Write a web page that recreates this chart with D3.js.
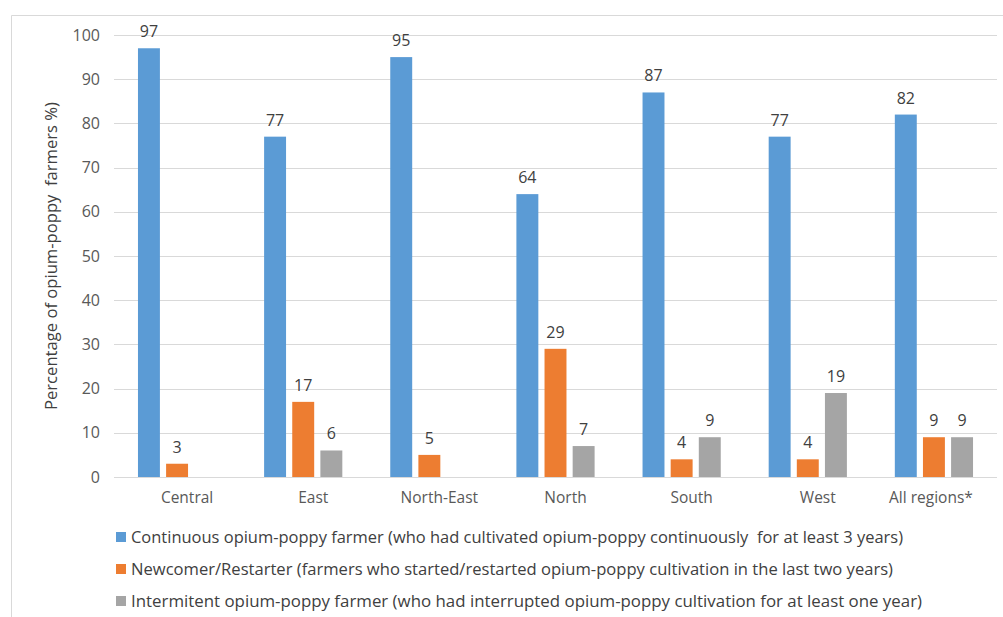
<!DOCTYPE html>
<html><head><meta charset="utf-8">
<script src="https://cdn.jsdelivr.net/npm/d3@7"></script>
<style>body{margin:0;background:#fff}svg{display:block}text{font-family:"Open Sans","Noto Sans",sans-serif}</style>
</head><body><svg id="c" width="1003" height="617"></svg>
<script>
const categories = ["Central","East","North-East","North","South","West","All regions*"];
const continuous = [97,77,95,64,87,77,82];
const newcomer = [3,17,5,29,4,4,9];
const intermittent = [null,6,null,7,9,19,9];
const seriesNames = [
  "Continuous opium-poppy farmer (who had cultivated opium-poppy continuously  for at least 3 years)",
  "Newcomer/Restarter (farmers who started/restarted opium-poppy cultivation in the last two years)",
  "Intermitent opium-poppy farmer (who had interrupted opium-poppy cultivation for at least one year)"
];
const colors = ["#5b9bd5","#ed7d31","#a5a5a5"];
const yTicks = [0,10,20,30,40,50,60,70,80,90,100];

const svg = d3.select("#c");
// chart border
svg.append("path").attr("d","M11.5,617 V15.5 H1003").attr("fill","none").attr("stroke","#d9d9d9");

const L=114, R=997, T=35, B=477;
const y = d3.scaleLinear().domain([0,100]).range([B,T]);
const x0 = d3.scaleBand().domain(categories).range([L,R]).paddingInner(0.38).paddingOuter(0.19);
const x1 = d3.scaleBand().domain([0,1,2]).range([0,x0.bandwidth()]).paddingInner(0.22);

// grid
svg.append("g").selectAll("line").data(yTicks).join("line")
  .attr("x1",L).attr("x2",R).attr("y1",d=>Math.round(y(d))+0.5).attr("y2",d=>Math.round(y(d))+0.5)
  .attr("stroke","#d9d9d9").attr("stroke-width",1);

// y axis labels
const yAxis = d3.axisLeft(y).tickValues(yTicks).tickSize(0).tickPadding(14);
const gy = svg.append("g").attr("transform",`translate(${L},0)`).call(yAxis);
gy.select(".domain").remove();
gy.selectAll("text").attr("fill","#595959").style("font-size","16px").style("font-family",'"Open Sans","Noto Sans",sans-serif');

// x axis labels
const xAxis = d3.axisBottom(x0).tickSize(0).tickPadding(15);
const gx = svg.append("g").attr("transform",`translate(0,${B})`).call(xAxis);
gx.select(".domain").remove();
gx.selectAll("text").attr("fill","#595959").style("font-size","15.5px").style("font-family",'"Open Sans","Noto Sans",sans-serif')
  .attr("dx",(d,i)=> i===categories.length-1 ? -3 : 10);

const series=[continuous,newcomer,intermittent];
const groups = svg.append("g").selectAll("g").data(categories).join("g")
  .attr("transform",d=>`translate(${x0(d)},0)`);
series.forEach((s,si)=>{
  groups.filter((d,i)=>s[i]!=null).append("rect")
    .attr("x",x1(si)).attr("width",x1.bandwidth())
    .attr("y",(d)=>y(s[categories.indexOf(d)]))
    .attr("height",d=>B-y(s[categories.indexOf(d)]))
    .attr("fill",colors[si]);
  groups.filter((d,i)=>s[i]!=null).append("text")
    .attr("x",x1(si)+x1.bandwidth()/2).attr("y",d=>y(s[categories.indexOf(d)])-11)
    .attr("text-anchor","middle").attr("fill","#404040").style("font-size","16px")
    .text(d=>s[categories.indexOf(d)]);
});

// y title
svg.append("text").attr("transform","translate(57,256) rotate(-90)").attr("text-anchor","middle")
  .attr("fill","#404040").style("font-size","15.5px").attr("xml:space","preserve")
  .attr("textLength",308).attr("lengthAdjust","spacingAndGlyphs")
  .text("Percentage of opium-poppy  farmers %)");

// legend
const lg = svg.append("g");
const ends=[903,893,922];
seriesNames.forEach((n,i)=>{
  const cy=537+i*32;
  lg.append("rect").attr("x",116).attr("y",cy-5).attr("width",10).attr("height",10).attr("fill",colors[i]);
  lg.append("text").attr("x",131).attr("y",cy+5.5).attr("fill","#404040").style("font-size","15.5px")
    .attr("xml:space","preserve").attr("textLength",ends[i]-131).attr("lengthAdjust","spacingAndGlyphs").text(n);
});
</script></body></html>
